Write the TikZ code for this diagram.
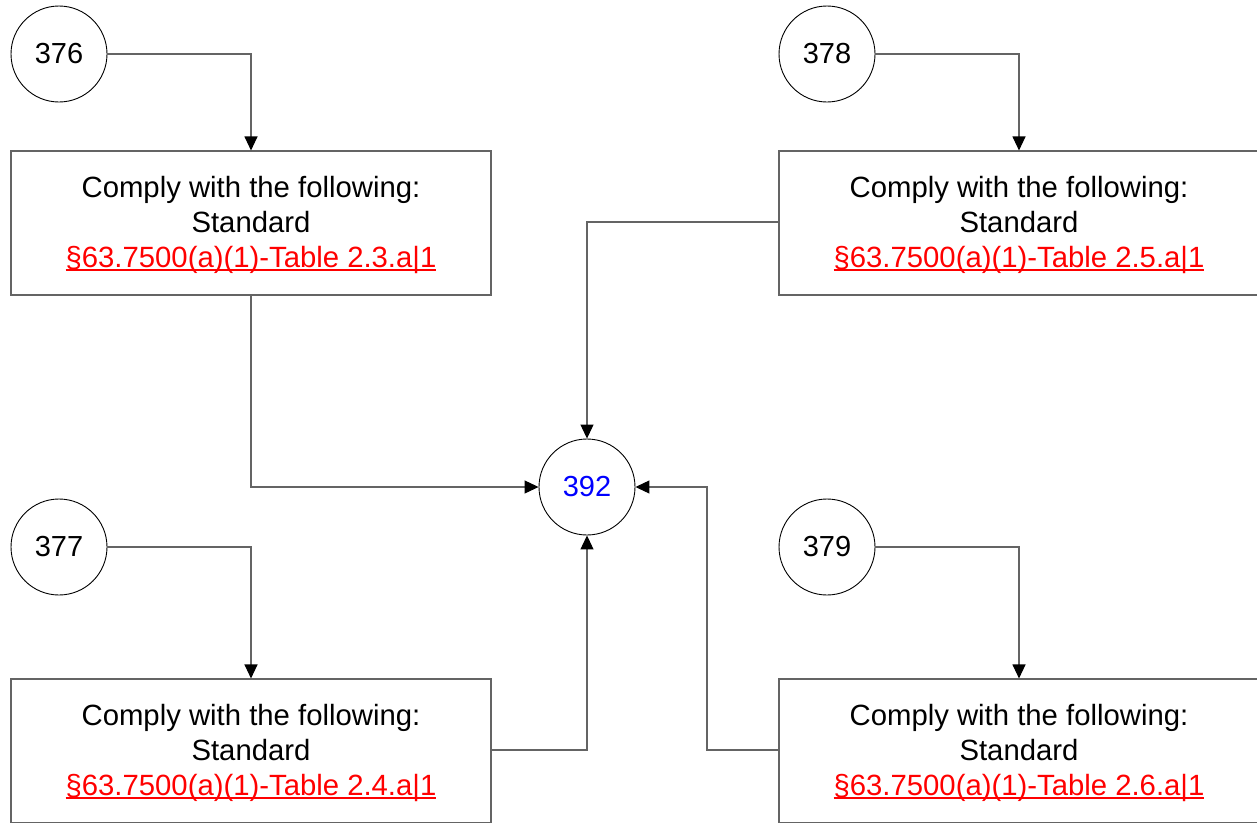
\documentclass[tikz,border=0pt]{standalone}
\usepackage{fontspec}
\setmainfont{Liberation Sans}
\usetikzlibrary{arrows.meta}
\definecolor{linkred}{RGB}{255,0,0}
\definecolor{numblue}{RGB}{0,0,255}
\definecolor{edgegray}{RGB}{100,100,100}
\tikzset{
  x=1pt, y=-1pt,
  numcirc/.style={circle, draw=black, line width=0.9pt, minimum size=96pt, inner sep=0pt, font=\fontsize{29}{35}\selectfont},
  stdbox/.style={rectangle, draw=edgegray, line width=1.1pt, minimum width=480pt, minimum height=144pt, inner sep=0pt},
  boxtext/.style={font=\fontsize{29.3}{34.6}\selectfont, align=center, yshift=-2pt, inner sep=0pt},
  conn/.style={draw=edgegray, line width=1.1pt, -{Triangle[length=14pt,width=13pt,fill=black,color=black]}},
}
\newcommand{\redlink}[1]{\textcolor{linkred}{\setbox0\hbox{#1}\rlap{\rule[-3.6pt]{\wd0}{1.6pt}}\box0}}
\newcommand{\stdtext}[1]{Comply with the following:\\Standard\\\redlink{§63.7500(a)(1)-Table #1.a|1}}
\begin{document}
\begin{tikzpicture}
\useasboundingbox (0,0) rectangle (1257,822);
\clip (0,0) rectangle (1257,822);
\node[numcirc] (c376) at (59,54) {376};
\node[numcirc] (c378) at (827,54) {378};
\node[numcirc] (c377) at (59,547) {377};
\node[numcirc] (c379) at (827,547) {379};
\node[numcirc, text=numblue] (c392) at (587,487) {392};
\node[stdbox] (b23) at (251,223) {};
\node[boxtext] (t23) at (b23.center) {\stdtext{2.3}};
\node[stdbox] (b25) at (1019,223) {};
\node[boxtext] (t25) at (b25.center) {\stdtext{2.5}};
\node[stdbox] (b24) at (251,751) {};
\node[boxtext] (t24) at (b24.center) {\stdtext{2.4}};
\node[stdbox] (b26) at (1019,751) {};
\node[boxtext] (t26) at (b26.center) {\stdtext{2.6}};
\draw[conn] (c376.east) -| (b23.north);
\draw[conn] (c378.east) -| (b25.north);
\draw[conn] (c377.east) -| (b24.north);
\draw[conn] (c379.east) -| (b26.north);
\draw[conn] (b23.south) |- (c392.west);
\draw[conn] (b25.west |- 0,222) -| (c392.north);
\draw[conn] (b24.east |- 0,750) -| (c392.south);
\coordinate (bend) at (707,750);
\draw[conn] (b26.west |- bend) -- (bend) |- (c392.east);
\end{tikzpicture}
\end{document}
